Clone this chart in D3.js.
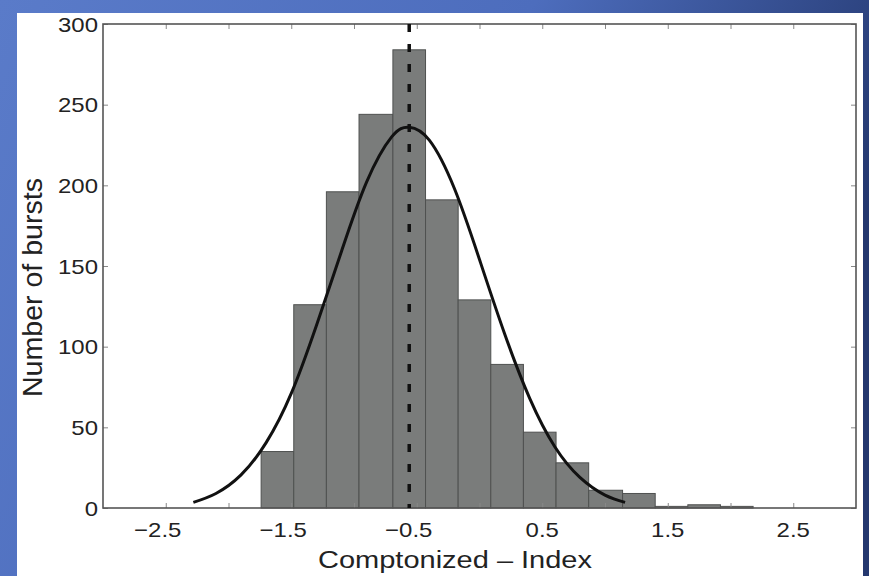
<!DOCTYPE html>
<html>
<head>
<meta charset="utf-8">
<script src="https://cdn.jsdelivr.net/npm/d3@7"></script>
<style>
  html, body { margin: 0; padding: 0; background: #fff; }
  svg { display: block; }
  text { font-family: "Liberation Sans", Arial, Helvetica, sans-serif; fill: #222; }
</style>
</head>
<body>
<svg id="chart" width="869" height="576"></svg>
<script>
// ---- data ----
const binEdges = [-1.74, -1.48, -1.22, -0.96, -0.69, -0.43, -0.17, 0.09, 0.35, 0.61, 0.87, 1.14, 1.40, 1.66, 1.92, 2.18];
const binCounts = [35, 126, 196, 244, 284, 191, 129, 89, 47, 28, 11, 9, 1, 2, 1];
const fitX = [-2.28, -2.1, -1.9, -1.7, -1.5, -1.3, -1.1, -0.9, -0.7, -0.56, -0.4, -0.2, 0.0, 0.2, 0.4, 0.6, 0.8, 1.0, 1.16];
const fitY = [3.5, 9.0, 20.5, 40.5, 71, 113, 159, 202, 230, 236, 228, 198, 154, 108, 68, 38, 19, 8, 3.5];
const meanValue = -0.56;
const xTicks = [-2.5, -2.0, -1.5, -1.0, -0.5, 0.0, 0.5, 1.0, 1.5, 2.0, 2.5];
const xTickLabels = ["\u22122.5", "\u22121.5", "\u22120.5", "0.5", "1.5", "2.5"];
const xLabelValues = [-2.5, -1.5, -0.5, 0.5, 1.5, 2.5];
const yTicks = [0, 50, 100, 150, 200, 250, 300];
const xTitle = "Comptonized \u2013 Index";
const yTitle = "Number of bursts";

const svg = d3.select("#chart");
const W = 869, H = 576;

// background frame gradient
const defs = svg.append("defs");
const grad = defs.append("linearGradient").attr("id", "bg")
  .attr("x1", "0").attr("y1", "0").attr("x2", "1").attr("y2", "0.35");
grad.append("stop").attr("offset", "0").attr("stop-color", "#5a7bc9");
grad.append("stop").attr("offset", "0.55").attr("stop-color", "#4d6dbd");
grad.append("stop").attr("offset", "1").attr("stop-color", "#24386f");
svg.append("rect").attr("width", W).attr("height", H).attr("fill", "url(#bg)");
svg.append("rect").attr("x", 17).attr("y", 13).attr("width", 846).attr("height", H - 13).attr("fill", "#ffffff");

const x = d3.scaleLinear().domain([-3, 3]).range([103, 856]);
const y = d3.scaleLinear().domain([0, 300]).range([508, 24]);

// bars
const bins = binCounts.map((c, i) => ({ x0: binEdges[i], x1: binEdges[i + 1], c }));
svg.append("g").selectAll("rect").data(bins).join("rect")
  .attr("x", d => x(d.x0))
  .attr("y", d => y(d.c))
  .attr("width", d => x(d.x1) - x(d.x0))
  .attr("height", d => y(0) - y(d.c))
  .attr("fill", "#7a7c7b")
  .attr("stroke", "#4f5150")
  .attr("stroke-width", 1);

// axes (box with inward ticks)
const axisColor = "#555";
const tickLen = 5;
const gAx = svg.append("g");
gAx.append("g").attr("transform", `translate(0,${y(0)})`)
  .call(d3.axisBottom(x).tickValues(xTicks).tickSize(-tickLen).tickFormat(""));
gAx.append("g").attr("transform", `translate(0,${y(300)})`)
  .call(d3.axisTop(x).tickValues(xTicks).tickSize(-tickLen).tickFormat(""));
gAx.append("g").attr("transform", `translate(${x(-3)},0)`)
  .call(d3.axisLeft(y).tickValues(yTicks).tickSize(-tickLen).tickFormat(""));
gAx.append("g").attr("transform", `translate(${x(3)},0)`)
  .call(d3.axisRight(y).tickValues(yTicks).tickSize(-tickLen).tickFormat(""));
gAx.selectAll(".domain").remove();
gAx.selectAll("line").attr("stroke", "#888").attr("stroke-width", 1);
svg.append("rect")
  .attr("x", x(-3)).attr("y", y(300))
  .attr("width", x(3) - x(-3)).attr("height", y(0) - y(300))
  .attr("fill", "none").attr("stroke", axisColor).attr("stroke-width", 1.6);

// fitted curve
const line = d3.line().x((d, i) => x(fitX[i])).y(d => y(d)).curve(d3.curveNatural);
svg.append("path").datum(fitY).attr("d", line)
  .attr("fill", "none").attr("stroke", "#111").attr("stroke-width", 3);

// mean dashed line
svg.append("line")
  .attr("x1", x(meanValue)).attr("x2", x(meanValue))
  .attr("y1", y(300)).attr("y2", y(0))
  .attr("stroke", "#111").attr("stroke-width", 3.5)
  .attr("stroke-dasharray", "8,12");

// tick labels (glyphs slightly widened like the reference)
const widen = sel => sel.each(function () {
  const len = this.getComputedTextLength();
  d3.select(this).attr("textLength", len * 1.14).attr("lengthAdjust", "spacingAndGlyphs");
});
svg.append("g").selectAll("text").data(xLabelValues).join("text")
  .attr("x", (d) => x(d) + (d < 0 ? -8 : 0))
  .attr("y", 537)
  .attr("text-anchor", "middle")
  .attr("font-size", 21)
  .text((d, i) => xTickLabels[i])
  .call(widen);

svg.append("g").selectAll("text").data(yTicks).join("text")
  .attr("x", 98)
  .attr("y", d => y(d) + 7.5)
  .attr("text-anchor", "end")
  .attr("font-size", 21)
  .text(d => d)
  .call(widen);

// axis titles
svg.append("text")
  .attr("x", (318 + 592) / 2).attr("y", 568)
  .attr("text-anchor", "middle")
  .attr("font-size", 23)
  .attr("textLength", 274).attr("lengthAdjust", "spacingAndGlyphs")
  .text(xTitle);

svg.append("text")
  .attr("transform", `translate(42,${(178 + 397) / 2}) rotate(-90)`)
  .attr("text-anchor", "middle")
  .attr("font-size", 27)
  .attr("textLength", 219).attr("lengthAdjust", "spacingAndGlyphs")
  .text(yTitle);
</script>
</body>
</html>
